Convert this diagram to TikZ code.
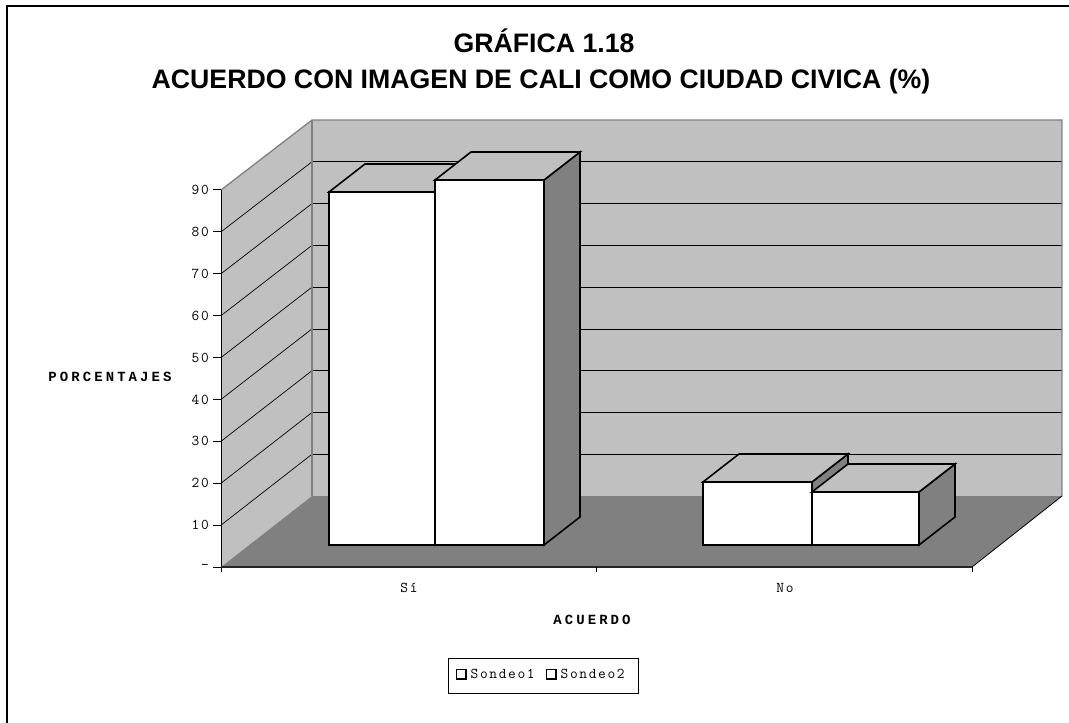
\documentclass[tikz,border=0pt]{standalone}
\usepackage{fontspec}
\newfontfamily\titulofont{Liberation Sans}
\newfontfamily\ejefont[LetterSpace=11]{Latin Modern Mono}
\newfontfamily\ejenegfont[LetterSpace=22]{Liberation Mono}
\definecolor{paredgris}{HTML}{C0C0C0}
\definecolor{pisogris}{HTML}{808080}

\begin{document}
\begin{tikzpicture}[x=1pt,y=-1pt,
        borde/.style={pisogris,line width=1.3pt},
        rejilla/.style={line width=0.7pt},
        etiq/.style={inner sep=0pt,font=\ejefont\fontsize{15}{17}\selectfont},
        etiqneg/.style={inner sep=0pt,font=\ejenegfont\bfseries\fontsize{14}{16}\selectfont},
        tit/.style={anchor=base,font=\titulofont\bfseries\fontsize{26.7}{30}\selectfont},
        barfrente/.style={fill=white,draw,line width=1.6pt},
        bartapa/.style={fill=paredgris,draw,line width=1.6pt},
        barlado/.style={fill=pisogris,draw,line width=1.6pt},
        cuadrito/.style={draw,line width=1.5pt,minimum size=9.5pt,inner sep=0pt}]
    \useasboundingbox (0,0) rectangle (1069,723);
    \draw[line width=2.5pt] (7,723) -- (7,6) -- (1069,6);
    % titulo
    \node[tit] (titulo1) at (544,52) {GRÁFICA 1.18};
    \node[tit] (titulo2) at (541,88) {ACUERDO CON IMAGEN DE CALI COMO CIUDAD CIVICA (\%)};
    % paredes y piso
    \fill[paredgris] (312,120) rectangle (1062,496);
    \fill[paredgris] (221,567) -- (221,190) -- (312,120) -- (312,496) -- cycle;
    \fill[pisogris] (221,567) -- (312,496) -- (1062,496) -- (972,567) -- cycle;
    \foreach \k in {1,...,8} {
        \draw[rejilla] (312,{496-41.78*\k}) -- (1062,{496-41.78*\k});
        \draw[rejilla] (221,{567-41.89*\k}) -- (312,{496-41.78*\k});
    }
    \draw[borde] (221,190) -- (312,120) -- (1062,120) -- (1062,496);
    \draw[borde] (312,120) -- (312,496);
    \draw[line width=0.8pt] (972,567) -- (1062,496);
    % ejes
    \draw[line width=1pt] (221,190) -- (221,572);
    \draw[line width=2pt,black!85] (221,567) -- (972,567);
    \foreach \x in {596,972} \draw[line width=1pt] (\x,567) -- (\x,572);
    \foreach \k/\t in {0/-,1/10,2/20,3/30,4/40,5/50,6/60,7/70,8/80,9/90} {
        \draw[line width=1pt] (213,{567-41.89*\k}) -- (221,{567-41.89*\k});
        \node[etiq,anchor=east] (y\k) at (209,{567-41.89*\k}) {\t};
    }
    % barras
    \foreach \xa/\xb/\yt in {329/435/192, 435/544/180, 703/812/482, 812/919/492} {
        \draw[barlado] (\xb,\yt) -- ({\xb+36},{\yt-28}) -- ({\xb+36},517) -- (\xb,545) -- cycle;
        \draw[bartapa] (\xa,\yt) -- ({\xa+36},{\yt-28}) -- ({\xb+36},{\yt-28}) -- (\xb,\yt) -- cycle;
        \draw[barfrente] (\xa,\yt) rectangle (\xb,545);
    }
    % rotulos
    \node[etiq,anchor=base] (si) at (409,592) {Sí};
    \node[etiq,anchor=base] (no) at (785,592) {No};
    \node[etiqneg,anchor=base] (acuerdo) at (592,624) {ACUERDO};
    \node[etiqneg,anchor=base] (porcentajes) at (110,381) {PORCENTAJES};
    % leyenda
    \node[draw,line width=0.6pt,minimum width=190pt,minimum height=35pt] (leyenda) at (543,675.5) {};
    \node[cuadrito] (cuad1) at (461,674) {};
    \node[etiq,anchor=west] (sondeo1) at (cuad1.east) [xshift=4pt] {Sondeo1};
    \node[cuadrito] (cuad2) at (551,674) {};
    \node[etiq,anchor=west] (sondeo2) at (cuad2.east) [xshift=4pt] {Sondeo2};
\end{tikzpicture}
\end{document}
